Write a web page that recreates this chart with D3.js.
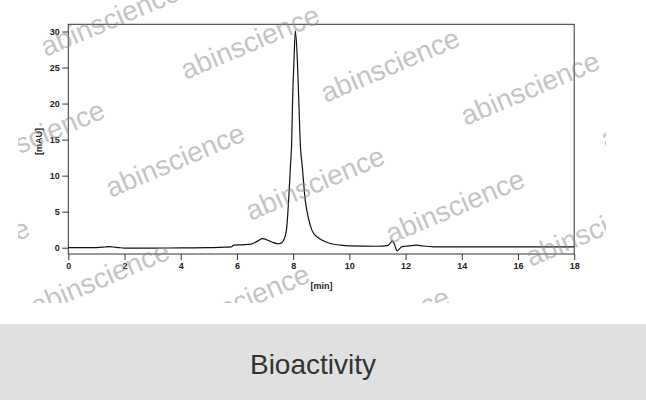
<!DOCTYPE html>
<html>
<head>
<meta charset="utf-8">
<script src="https://cdn.jsdelivr.net/npm/d3@7"></script>
<style>
  body { margin: 0; background: #fff; }
  svg { display: block; font-family: "Liberation Sans", Arial, sans-serif; }
  .axis text { font-size: 9px; font-weight: bold; fill: #222; }
  .axis line { stroke: #333; }
  .axis path { display: none; }
</style>
</head>
<body>
<div id="chart"></div>
<script>
// chromatogram trace
var timeMin = [0, 0.5, 1.0, 1.3, 1.45, 1.6, 1.8, 2.0, 3.0, 4.0, 5.0, 5.6, 5.8, 5.88, 6.2, 6.5,
  6.6, 6.75, 6.9, 7.0, 7.15, 7.3, 7.45, 7.55, 7.66, 7.76, 7.84, 7.9, 7.95, 7.98, 8.03, 8.08,
  8.15, 8.2, 8.26, 8.32, 8.43, 8.55, 8.67, 8.85, 9.0, 9.32, 9.68, 10.0, 11.0, 11.35, 11.45,
  11.52, 11.6, 11.7, 11.8, 11.87, 12.0, 12.4, 12.6, 13.0, 14.0, 16.0, 18.0];
var signalMAU = [0, 0, 0.02, 0.1, 0.15, 0.1, 0.02, -0.05, -0.05, -0.03, 0, 0.08, 0.1, 0.35, 0.4, 0.5,
  0.65, 0.95, 1.25, 1.2, 0.95, 0.7, 0.55, 0.6, 1.0, 2.4, 6.6, 11, 15, 20.5, 26, 30.1,
  26, 20.5, 14, 11.5, 6.6, 4.0, 2.4, 1.5, 1.1, 0.58, 0.35, 0.25, 0.2, 0.3, 0.6,
  0.95, 0.5, -0.45, -0.1, 0.15, 0.2, 0.35, 0.25, 0.12, 0.1, 0.1, 0.1];

var xTicks = [0, 2, 4, 6, 8, 10, 12, 14, 16, 18];
var yTicks = [0, 5, 10, 15, 20, 25, 30];
var xLabel = "[min]";
var yLabel = "[mAU]";
var bandTitle = "Bioactivity";
var watermark = "abinscience";

var width = 646, height = 400;

var svg = d3.select('#chart')
  .append('svg')
    .attr('width', width)
    .attr('height', height);

var x = d3.scaleLinear().domain([0, 18]).range([68.3, 574.2]);
var y = d3.scaleLinear().domain([-0.875, 31]).range([254, 24.3]);

// plot frame
svg.append('rect')
  .attr('x', x(0))
  .attr('y', y(31))
  .attr('width', x(18) - x(0))
  .attr('height', y(-0.875) - y(31))
  .attr('fill', 'none')
  .attr('stroke', '#333')
  .attr('stroke-width', 1);

svg.append('g')
  .attr('class', 'axis')
  .attr('transform', 'translate(0,' + y(-0.875) + ')')
  .call(d3.axisBottom(x).tickValues(xTicks).tickSize(6).tickPadding(3));

svg.append('g')
  .attr('class', 'axis')
  .attr('transform', 'translate(' + x(0) + ',0)')
  .call(d3.axisLeft(y).tickValues(yTicks).tickSize(6).tickPadding(2.5));

// trace
var line = d3.line()
  .x(function(d, i) { return x(timeMin[i]); })
  .y(function(d) { return y(d); })
  .curve(d3.curveMonotoneX);

svg.append('path')
  .datum(signalMAU)
  .attr('d', line)
  .attr('fill', 'none')
  .attr('stroke', '#111')
  .attr('stroke-width', 1.2);

svg.append('text')
  .attr('x', 321.5)
  .attr('y', 289)
  .style('text-anchor', 'middle')
  .style('font-size', '9px')
  .style('font-weight', 'bold')
  .attr('fill', '#222')
  .text(xLabel);

svg.append('text')
  .attr('transform', 'translate(41.5,141.5)rotate(-90)')
  .style('text-anchor', 'middle')
  .style('font-size', '9px')
  .style('font-weight', 'bold')
  .attr('fill', '#222')
  .text(yLabel);

// watermarks, clipped to the picture area
svg.append('clipPath').attr('id', 'wmclip')
  .append('rect').attr('x', 18).attr('y', 0).attr('width', 588).attr('height', 303);

var wm = [];
for (var j = 0; j <= 2; j++) {
  for (var i = -3; i <= 3; i++) {
    wm.push([250 + 140 * i + 65 * j, 42 + 23 * i + 141 * j]);
  }
}

svg.append('g')
  .attr('clip-path', 'url(#wmclip)')
  .selectAll('text')
  .data(wm)
  .enter().append('text')
    .attr('transform', function(d) { return 'translate(' + d[0] + ',' + d[1] + ')rotate(-23)'; })
    .attr('dy', '0.35em')
    .style('text-anchor', 'middle')
    .style('font-size', '28px')
    .attr('fill', '#888')
    .attr('fill-opacity', 0.5)
    .text(watermark);

// bottom band
svg.append('rect')
  .attr('x', 0)
  .attr('y', 324)
  .attr('width', width)
  .attr('height', height - 324)
  .attr('fill', '#dfe0df');

svg.append('text')
  .attr('x', 313)
  .attr('y', 374)
  .style('text-anchor', 'middle')
  .style('font-size', '28px')
  .attr('fill', '#333')
  .text(bandTitle);
</script>
</body>
</html>
